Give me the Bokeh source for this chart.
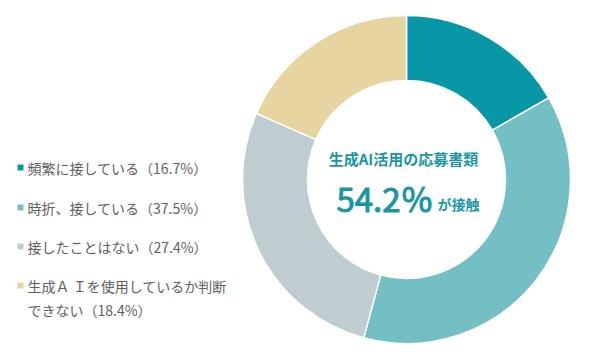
import math
from bokeh.plotting import figure
from bokeh.models import Range1d, ColumnDataSource
from bokeh.core.properties import value
from bokeh.embed import file_html
from bokeh.resources import INLINE

categories = ["頻繁に接している", "時折、接している", "接したことはない", "生成ＡＩを使用しているか判断できない"]
shares = [16.7, 37.5, 27.4, 18.4]
colors = ["#0797A6", "#73BFC4", "#BFCDD1", "#E7D5A1"]
legend_lines = ["頻繁に接している（16.7%）", "時折、接している（37.5%）", "接したことはない（27.4%）",
                "生成Ａ Ｉを使用しているか判断", "できない（18.4%）"]
center_title = "生成AI活用の応募書類"
center_value = "54.2％"
center_suffix = "が接触"

W, H = 600, 360
p = figure(width=W, height=H, output_backend="svg", toolbar_location=None,
           x_range=Range1d(0, W), y_range=Range1d(0, H), min_border=0)
p.axis.visible = False
p.grid.visible = False
p.outline_line_color = None
p.background_fill_color = "white"
p.border_fill_color = "white"

cx, cy = 406, H - 179
total = sum(shares)
starts, ends = [], []
acc = 0.0
for s in shares:
    a0 = math.pi / 2 - 2 * math.pi * acc / total
    acc += s
    a1 = math.pi / 2 - 2 * math.pi * acc / total
    starts.append(a0)
    ends.append(a1)

src = ColumnDataSource(dict(start=starts, end=ends, color=colors))
p.annular_wedge(x=cx, y=cy, inner_radius=99, outer_radius=164, start_angle="start", end_angle="end",
                direction="clock", fill_color="color", line_color="white", line_width=1.5, source=src)

font = value("Noto Sans CJK JP")
# center texts
p.text(x=[cx - 3], y=[H - 158], text=[center_title], text_font=font, text_font_size="15px",
       text_font_style="bold", text_color="#1A96A2", text_align="center", text_baseline="middle")
p.text(x=[433], y=[H - 197], text=[center_value], text_font=font, text_font_size="33px",
       text_color="#1A96A2", text_align="right", text_baseline="middle",
       text_outline_color="#1A96A2")
p.text(x=[437], y=[H - 203], text=[center_suffix], text_font=font, text_font_size="14px",
       text_font_style="bold", text_color="#1A96A2", text_align="left", text_baseline="middle")

# legend
row_y = [167, 207, 246, 285]
line_y = [167, 207, 246, 285, 309]
p.rect(x=[20] * 4, y=[H - y for y in row_y], width=6, height=6, fill_color=colors, line_color=None)
p.text(x=[27] * 5, y=[H - y for y in line_y], text=legend_lines, text_font=font, text_font_size="14px",
       text_color="#606060", text_align="left", text_baseline="middle")

open("out.html", "w").write(file_html(p, INLINE))
